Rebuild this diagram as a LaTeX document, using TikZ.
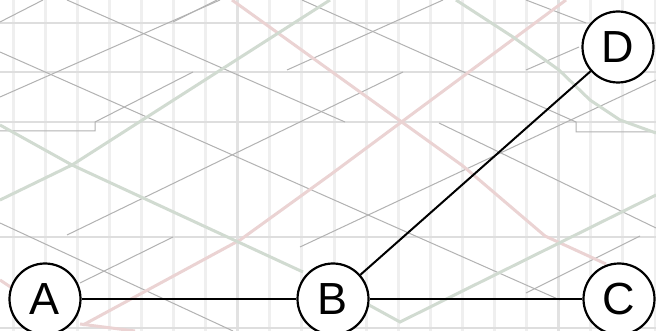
\documentclass[tikz,border=0pt]{standalone}
\usepackage{fontspec}
\setmainfont{Liberation Sans}
\definecolor{vg}{HTML}{EFEFEF}
\definecolor{vgd}{HTML}{E2E2E2}
\definecolor{hg}{HTML}{DEDEDE}
\definecolor{dg}{HTML}{B2B2B2}
\definecolor{rl}{HTML}{EBD3D3}
\definecolor{gl}{HTML}{D1DBD1}
\begin{document}
\begin{tikzpicture}[x=1pt,y=-1pt,
  vline/.style={draw=vg, line width=3pt},
  vlinedark/.style={draw=vgd, line width=3pt},
  hline/.style={draw=hg, line width=1.5pt},
  gline/.style={draw=dg, line width=1pt},
  rline/.style={draw=rl, line width=3pt},
  grline/.style={draw=gl, line width=3pt},
  vertex/.style={circle, draw=black, fill=white, line width=2.2pt, minimum size=71pt, inner sep=0pt, font=\fontsize{45}{45}\selectfont},
  edge/.style={draw=black, line width=2pt}]
\useasboundingbox (0,0) rectangle (656,331);
\fill[white] (0,0) rectangle (656,331);
% vertical grid
\foreach \i in {0,...,20} {\draw[vline] ({13+32.1*\i},0) -- ({13+32.1*\i},331);}
\draw[vlinedark] ({13+32.1*7},0) -- ({13+32.1*7},331);
\draw[vlinedark] ({13+32.1*17},0) -- ({13+32.1*17},331);
% horizontal grid
\foreach \y in {23,72,122,237,328} {\draw[hline] (0,\y) -- (656,\y);}
% gray diagonal lattice
\draw[gline] (0,22) -- (43,0);
\draw[gline] (67,0) -- (345,122);
\draw[gline] (0,52) -- (560,300);
\draw[gline] (0,97) -- (220,0);
\draw[gline] (173,22) -- (217,0);
\draw[gline] (0,131) -- (95,131) -- (95,122) -- (193,72);
\draw[gline] (67,235) -- (403,72);
\draw[gline] (287,70) -- (443,0);
\draw[gline] (302,0) -- (576,122) -- (576,132) -- (656,132);
\draw[gline] (439,123) -- (656,228);
\draw[gline] (300,247) -- (656,80);
\draw[gline] (526,70) -- (579,47);
\draw[gline] (526,0) -- (586,23);
\draw[gline] (0,223) -- (233,331);
\draw[gline] (80,283) -- (173,237);
\draw[gline] (526,293) -- (640,236);
% red lines
\draw[rline] (232,0) -- (463,166) -- (545,236) -- (606,264);
\draw[rline] (566,0) -- (330,175) -- (240,240) -- (83,325);
\draw[rline] (0,280) -- (12,288);
\draw[rline] (80,324) -- (135,331);
% green lines
\draw[grline] (0,125) -- (72,165) -- (330,0);
\draw[grline] (0,200) -- (72,165) -- (303,272);
\draw[grline] (456,0) -- (513,37) -- (559,70) -- (590,100) -- (620,120) -- (656,133);
\draw[grline] (369,305) -- (400,322) -- (656,195);
% graph
\node[vertex] (A) at (45,299) {A};
\node[vertex] (B) at (333,299) {B};
\node[vertex] (C) at (619,299) {C};
\node[vertex] (D) at (618,47) {D};
\draw[edge] (A) -- (B);
\draw[edge] (B) -- (C);
\draw[edge] (B) -- (D);
\end{tikzpicture}
\end{document}
